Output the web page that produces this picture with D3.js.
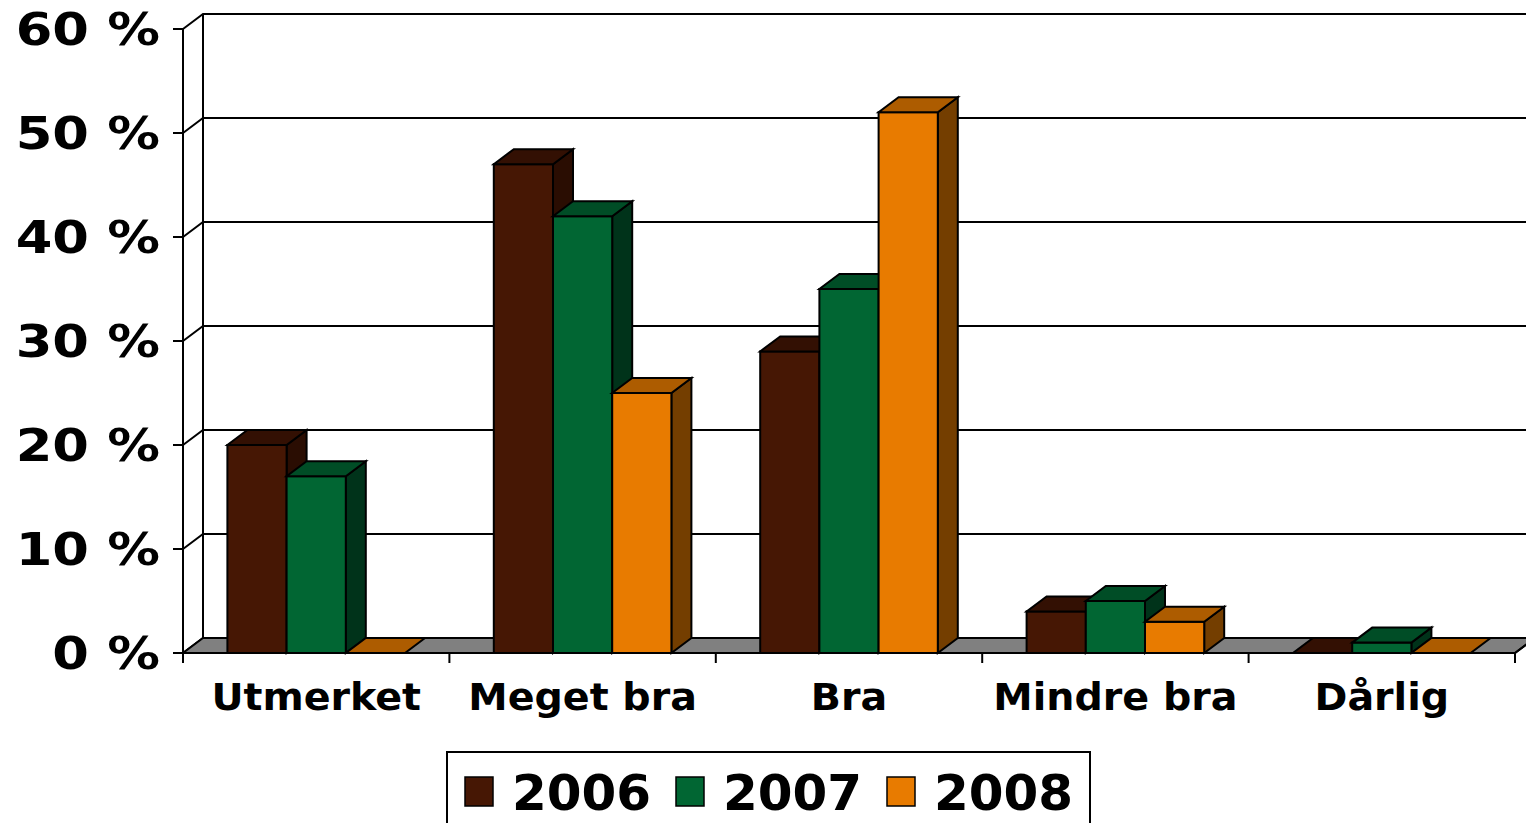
<!DOCTYPE html>
<html>
<head>
<meta charset="utf-8">
<script src="https://cdn.jsdelivr.net/npm/d3@7"></script>
<style>
  html, body { margin: 0; padding: 0; background: #fff; }
  svg { display: block; }
</style>
</head>
<body>
<svg id="chart" width="1526" height="823"></svg>
<script>
const categories = ["Utmerket", "Meget bra", "Bra", "Mindre bra", "Dårlig"];
const seriesNames = ["2006", "2007", "2008"];
const values2006 = [20, 47, 29, 4, 0];
const values2007 = [17, 42, 35, 5, 1];
const values2008 = [0, 25, 52, 3, 0];
const yTicks = [0, 10, 20, 30, 40, 50, 60];
const yTickLabels = ["0 %", "10 %", "20 %", "30 %", "40 %", "50 %", "60 %"];

const seriesValues = [values2006, values2007, values2008];
const colors = {
  "2006": { front: "#461704", top: "#331003", side: "#2a0d02" },
  "2007": { front: "#016633", top: "#004d26", side: "#00331a" },
  "2008": { front: "#e87b00", top: "#ad5c00", side: "#743e00" }
};

const svg = d3.select("#chart");
const dx = 20, dy = -15;
const x0 = d3.scaleBand().domain(categories).range([183, 1515]).paddingInner(0).paddingOuter(0);
const x1 = d3.scaleBand().domain(seriesNames).range([0, x0.bandwidth()]).paddingInner(0).paddingOuter(0.75);
const y = d3.scaleLinear().domain([0, 60]).range([653, 29]);
const xL = x0.range()[0], xR = x0.range()[1];

const font = "'DejaVu Sans', Verdana, sans-serif";

// Back wall gridlines and side wall diagonals
const grid = svg.append("g").attr("stroke", "#000").attr("stroke-width", 2).attr("fill", "none");
yTicks.forEach(t => {
  grid.append("polyline")
    .attr("points", [[xL, y(t)], [xL + dx, y(t) + dy], [xR + dx, y(t) + dy]].map(p => p.join(",")).join(" "));
});
grid.append("line").attr("x1", xL + dx).attr("x2", xL + dx).attr("y1", y(60) + dy).attr("y2", y(0) + dy);
grid.append("line").attr("x1", xR + dx).attr("x2", xR + dx).attr("y1", y(60) + dy).attr("y2", y(0) + dy);

// Floor
svg.append("polygon")
  .attr("points", [[xL, y(0)], [xR, y(0)], [xR + dx, y(0) + dy], [xL + dx, y(0) + dy]].map(p => p.join(",")).join(" "))
  .attr("fill", "#808080").attr("stroke", "#000").attr("stroke-width", 2);

// Bars
const bars = svg.append("g").attr("stroke", "#000").attr("stroke-width", 2).attr("stroke-linejoin", "miter");
categories.forEach((c, ci) => {
  seriesNames.forEach((s, si) => {
    const v = seriesValues[si][ci];
    const xa = x0(c) + x1(s), xb = xa + x1.bandwidth();
    const yt = y(v), yb = y(0);
    const col = colors[s];
    const pts = a => a.map(p => p.join(",")).join(" ");
    if (v > 0) {
      bars.append("polygon").attr("fill", col.side)
        .attr("points", pts([[xb, yt], [xb + dx, yt + dy], [xb + dx, yb + dy], [xb, yb]]));
      bars.append("rect").attr("fill", col.front)
        .attr("x", xa).attr("y", yt).attr("width", xb - xa).attr("height", yb - yt);
    }
    bars.append("polygon").attr("fill", col.top)
      .attr("points", pts([[xa, yt], [xb, yt], [xb + dx, yt + dy], [xa + dx, yt + dy]]));
  });
});

// Front axes
const ax = svg.append("g").attr("stroke", "#000").attr("stroke-width", 2);
ax.append("line").attr("x1", xL).attr("x2", xL).attr("y1", y(60)).attr("y2", y(0));
ax.append("line").attr("x1", xL).attr("x2", xR).attr("y1", y(0)).attr("y2", y(0));
ax.append("line").attr("x1", xR).attr("x2", xR + dx).attr("y1", y(0)).attr("y2", y(0) + dy);
yTicks.forEach(t => {
  ax.append("line").attr("x1", xL - 10).attr("x2", xL).attr("y1", y(t)).attr("y2", y(t));
});
const bounds = categories.map(c => x0(c)).concat([xR]);
bounds.forEach(b => {
  ax.append("line").attr("x1", b).attr("x2", b).attr("y1", y(0)).attr("y2", y(0) + 10);
});

// Y labels
yTicks.forEach((t, i) => {
  svg.append("text")
    .attr("transform", `translate(160,${y(t) + 16}) scale(1.17,1)`)
    .attr("text-anchor", "end")
    .attr("font-family", font).attr("font-weight", "bold").attr("font-size", 45)
    .attr("fill", "#000")
    .text(yTickLabels[i]);
});

// Category labels
categories.forEach(c => {
  svg.append("text")
    .attr("transform", `translate(${x0(c) + x0.bandwidth() / 2},710) scale(1.07,1)`)
    .attr("text-anchor", "middle")
    .attr("font-family", font).attr("font-weight", "bold").attr("font-size", 37)
    .attr("fill", "#000")
    .text(c);
});

// Legend
const lg = svg.append("g");
lg.append("rect").attr("x", 447).attr("y", 752).attr("width", 643).attr("height", 100)
  .attr("fill", "#fff").attr("stroke", "#000").attr("stroke-width", 2);
seriesNames.forEach((s, i) => {
  const lx = 465 + i * 211;
  lg.append("rect").attr("x", lx).attr("y", 777).attr("width", 28).attr("height", 29)
    .attr("fill", colors[s].front).attr("stroke", "#000").attr("stroke-width", 1.5);
  lg.append("text").attr("x", lx + 47).attr("y", 810)
    .attr("font-family", font).attr("font-weight", "bold").attr("font-size", 50)
    .attr("fill", "#000").text(s);
});
</script>
</body>
</html>
